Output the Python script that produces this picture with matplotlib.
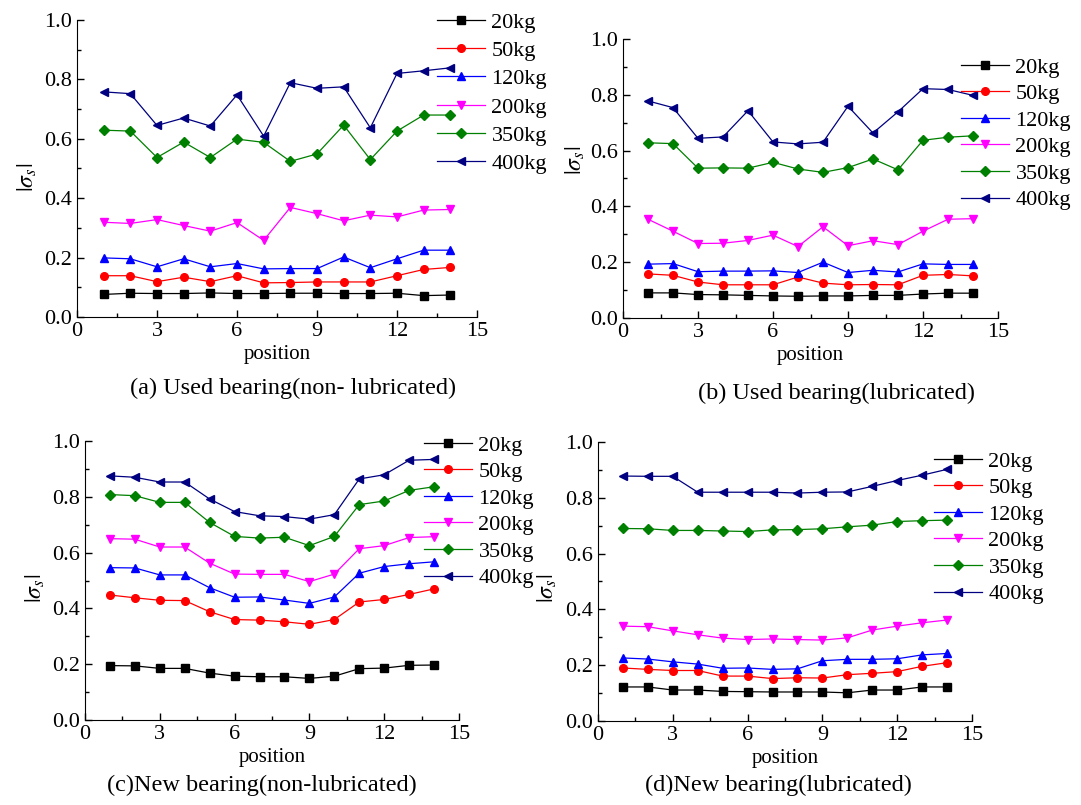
import numpy as np
import matplotlib
matplotlib.use("Agg")
import matplotlib.pyplot as plt
from matplotlib.ticker import MultipleLocator, FormatStrFormatter

plt.rcParams["font.family"] = ["Liberation Serif", "DejaVu Serif"]
plt.rcParams["mathtext.fontset"] = "stix"

# 数据：位置与各载荷
position = np.arange(1, 15)
loads = ["20kg", "50kg", "120kg", "200kg", "350kg", "400kg"]

# (a) Used bearing (non-lubricated)
a_20 = [0.076, 0.080, 0.079, 0.079, 0.081, 0.079, 0.079, 0.080, 0.080, 0.079, 0.079, 0.080, 0.072, 0.074]
a_50 = [0.139, 0.139, 0.119, 0.134, 0.119, 0.139, 0.115, 0.116, 0.118, 0.118, 0.118, 0.139, 0.160, 0.167]
a_120 = [0.199, 0.196, 0.169, 0.196, 0.169, 0.180, 0.162, 0.163, 0.163, 0.202, 0.166, 0.196, 0.225, 0.225]
a_200 = [0.319, 0.315, 0.328, 0.308, 0.289, 0.318, 0.258, 0.369, 0.348, 0.324, 0.343, 0.337, 0.360, 0.362]
a_350 = [0.629, 0.626, 0.537, 0.589, 0.537, 0.599, 0.588, 0.524, 0.549, 0.646, 0.530, 0.626, 0.680, 0.680]
a_400 = [0.758, 0.752, 0.645, 0.670, 0.643, 0.748, 0.609, 0.789, 0.770, 0.775, 0.637, 0.820, 0.829, 0.839]

# (b) Used bearing (lubricated)
b_20 = [0.090, 0.090, 0.084, 0.083, 0.081, 0.079, 0.078, 0.079, 0.079, 0.081, 0.081, 0.086, 0.089, 0.089]
b_50 = [0.158, 0.153, 0.129, 0.119, 0.119, 0.119, 0.147, 0.125, 0.119, 0.120, 0.119, 0.153, 0.156, 0.151]
b_120 = [0.193, 0.195, 0.166, 0.168, 0.168, 0.169, 0.163, 0.200, 0.163, 0.171, 0.165, 0.194, 0.192, 0.192]
b_200 = [0.354, 0.311, 0.267, 0.268, 0.278, 0.297, 0.256, 0.327, 0.259, 0.277, 0.263, 0.311, 0.354, 0.356]
b_350 = [0.628, 0.625, 0.537, 0.538, 0.537, 0.558, 0.534, 0.522, 0.539, 0.570, 0.531, 0.637, 0.648, 0.653]
b_400 = [0.778, 0.754, 0.644, 0.649, 0.743, 0.631, 0.624, 0.630, 0.759, 0.663, 0.739, 0.822, 0.819, 0.798]

# (c) New bearing (non-lubricated)
c_20 = [0.195, 0.194, 0.185, 0.185, 0.168, 0.157, 0.155, 0.155, 0.149, 0.157, 0.184, 0.186, 0.196, 0.197]
c_50 = [0.448, 0.438, 0.429, 0.428, 0.388, 0.360, 0.358, 0.352, 0.343, 0.360, 0.423, 0.432, 0.450, 0.470]
c_120 = [0.546, 0.545, 0.520, 0.520, 0.474, 0.440, 0.441, 0.430, 0.418, 0.441, 0.526, 0.550, 0.560, 0.567]
c_200 = [0.650, 0.648, 0.620, 0.620, 0.562, 0.523, 0.522, 0.522, 0.496, 0.523, 0.614, 0.625, 0.654, 0.657]
c_350 = [0.808, 0.804, 0.780, 0.780, 0.708, 0.658, 0.652, 0.655, 0.625, 0.658, 0.772, 0.785, 0.823, 0.836]
c_400 = [0.875, 0.870, 0.853, 0.853, 0.792, 0.747, 0.732, 0.729, 0.720, 0.736, 0.864, 0.879, 0.931, 0.934]

# (d) New bearing (lubricated)
d_20 = [0.122, 0.122, 0.111, 0.111, 0.106, 0.105, 0.104, 0.104, 0.104, 0.101, 0.111, 0.111, 0.122, 0.122]
d_50 = [0.190, 0.185, 0.181, 0.181, 0.161, 0.161, 0.152, 0.155, 0.154, 0.166, 0.171, 0.177, 0.196, 0.209]
d_120 = [0.226, 0.222, 0.212, 0.204, 0.189, 0.190, 0.185, 0.187, 0.216, 0.221, 0.221, 0.223, 0.237, 0.242]
d_200 = [0.340, 0.338, 0.323, 0.309, 0.297, 0.292, 0.294, 0.292, 0.290, 0.298, 0.326, 0.340, 0.352, 0.362]
d_350 = [0.690, 0.689, 0.683, 0.683, 0.681, 0.679, 0.685, 0.686, 0.689, 0.696, 0.702, 0.715, 0.718, 0.720]
d_400 = [0.878, 0.877, 0.877, 0.820, 0.820, 0.820, 0.820, 0.817, 0.820, 0.821, 0.841, 0.862, 0.881, 0.902]

captions = ["(a) Used bearing(non- lubricated)", "(b) Used bearing(lubricated)",
            "(c)New bearing(non-lubricated)", "(d)New bearing(lubricated)"]

colors = ["black", "red", "blue", "#FF00FF", "#008000", "#000080"]
markers = ["s", "o", "^", "v", "D", "<"]

W, H = 1081, 805
fig = plt.figure(figsize=(W / 100, H / 100), dpi=100)


def fx(x):
    return x / W


def fy(y):
    return 1 - y / H


# 各子图像素位置: left, top, right, bottom
boxes = [(77, 20, 477, 317), (623, 39, 998, 318), (85, 441, 459, 720), (598, 442, 972, 721)]
legend_anchor = [(437, 12), (961, 57), (424, 435), (934, 451)]
legend_space = [0.35, 0.27, 0.27, 0.27]
# y 轴标签右边缘与中心高度
ylabel_pos = [(39, 177), (587, 160), (47, 588), (559, 588)]
caption_pos = [(293, 388), (837, 393), (262, 785), (778, 785)]

panels = [
    [a_20, a_50, a_120, a_200, a_350, a_400],
    [b_20, b_50, b_120, b_200, b_350, b_400],
    [c_20, c_50, c_120, c_200, c_350, c_400],
    [d_20, d_50, d_120, d_200, d_350, d_400],
]

for i, series in enumerate(panels):
    l, t, r, b = boxes[i]
    ax = fig.add_axes([fx(l), fy(b), fx(r - l), (b - t) / H])
    for vals, lab, c, m in zip(series, loads, colors, markers):
        ax.plot(position, vals, color=c, marker=m, markersize=5.5, linewidth=0.9, label=lab)

    ax.set_xlim(0, 15)
    ax.set_ylim(0, 1.0)
    ax.xaxis.set_major_locator(MultipleLocator(3))
    ax.xaxis.set_minor_locator(MultipleLocator(1.5))
    ax.yaxis.set_major_locator(MultipleLocator(0.2))
    ax.yaxis.set_minor_locator(MultipleLocator(0.1))
    ax.yaxis.set_major_formatter(FormatStrFormatter("%.1f"))
    ax.spines["top"].set_visible(False)
    ax.spines["right"].set_visible(False)
    ax.tick_params(which="both", direction="in", labelsize=16, width=1)
    ax.tick_params(which="major", length=5)
    ax.tick_params(which="minor", length=3)

    ax.set_xlabel("position", fontsize=15, labelpad=3)
    yx, yy = ylabel_pos[i]
    ax.set_ylabel(r"$|\sigma_s|$", fontsize=17)
    ax.yaxis.set_label_coords((yx - l) / (r - l), (b - yy) / (b - t))

    lx, ly = legend_anchor[i]
    ax.legend(loc="upper left", bbox_to_anchor=(fx(lx), fy(ly)), bbox_transform=fig.transFigure,
              frameon=False, fontsize=16, numpoints=1, handlelength=2.15, handletextpad=0.3,
              labelspacing=legend_space[i], borderpad=0, borderaxespad=0)

    cx, cy = caption_pos[i]
    fig.text(fx(cx), fy(cy), captions[i], fontsize=17.5, ha="center", va="center")

fig.savefig("out.png", dpi=100)
